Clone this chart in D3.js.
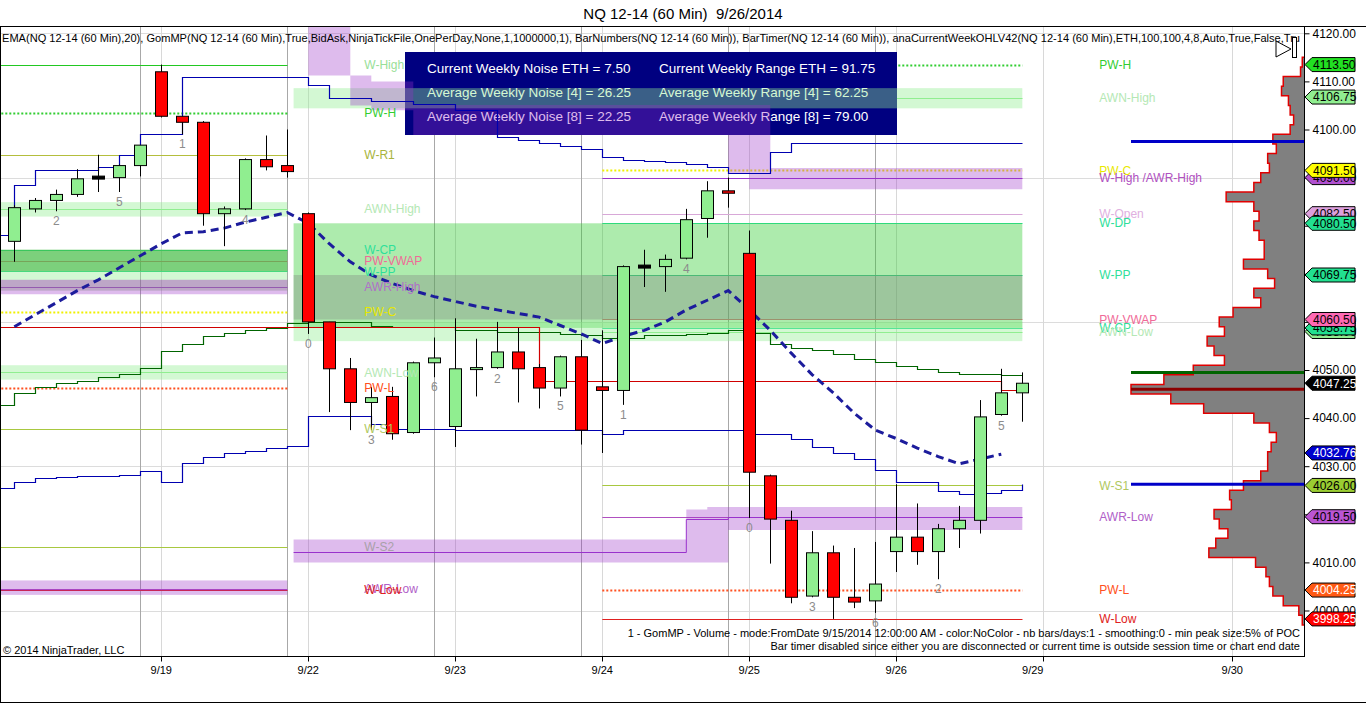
<!DOCTYPE html>
<html>
<head>
<meta charset="utf-8">
<script src="https://cdn.jsdelivr.net/npm/d3@7"></script>
<style>
  body { margin: 0; background: #fff; }
  svg { display: block; font-family: Arial, "Liberation Sans", sans-serif; }
</style>
</head>
<body>
<svg id="chart" width="1366" height="703"></svg>
<script>
// ---- Candles, one per 60 min bar (RTH, 7 bars a day) ----
const opens  = [4076.75,4083.5,4085.25,4086.5,4090,4090,4092.5, 4112,4102.75,4101.5,4082.5,4083.5,4093.75,4092.5,
                4082.5,4060,4050.25,4043.25,4044.5,4037,4051.5, 4038.25,4050.25,4050.5,4053.75,4050.5,4046.25,4052.75,
                4046.5,4045.75,4071.5,4071.5,4073.25,4081.5,4087.25, 4074.25,4028,4018.75,4003,4012,4002.75,4002,
                4012.25,4015.25,4012.25,4017,4018.75,4040.75,4045.25];
const highs  = [4084.25,4085.75,4087.5,4091.75,4094.75,4092.75,4096.75, 4113.5,4102.75,4101.75,4084,4094,4098.75,4100,
                4082.75,4060,4052.5,4046.5,4046.5,4051.75,4056.75, 4060.75,4056.5,4060,4058.75,4051.25,4053,4056.25,
                4058.25,4071.75,4075,4074,4083.5,4089.25,4090, 4079,4028.25,4020.75,4016.5,4013.5,4013,4014.25,
                4026.25,4022.25,4018,4021.75,4043.75,4050.25,4049.5];
const lows   = [4072.5,4082.75,4083,4086,4087,4087,4090.25, 4102.5,4099,4080,4075.75,4083.25,4091.5,4090,
                4057.5,4041.25,4037.5,4037.5,4035.5,4036.75,4048.5, 4034,4044.5,4050.25,4043.25,4042,4044.5,4034.5,
                4032.75,4042.75,4067.25,4066.25,4073,4077.5,4083.75, 4019.25,4009.75,4001.5,4002.75,3998.25,4000.5,3999.5,
                4008,4009.5,4006.5,4013,4016,4040.5,4039.25];
const closes = [4083.75,4085.25,4086.5,4089.75,4090,4092.5,4096.75, 4102.75,4101.5,4082.5,4083.5,4093.75,4092.25,4091.25,
                4060,4050.25,4043.25,4044.25,4036.75,4051.5,4052.5, 4050.25,4050.5,4053.75,4050.25,4046.25,4052.75,4037.5,
                4045.75,4071.5,4071.5,4073,4081.25,4087.25,4086.75, 4028.75,4019,4002.75,4012,4002.75,4001.75,4005.5,
                4015.25,4012.25,4017,4018.75,4040.25,4045.25,4047.25];

// EMA(20), bars 0..47.
const emaValues = [4059,4061.5,4064,4066.5,4068.75,4071.25,4073.75,4076.25,4078.5,4078.75,4079.5,4080.75,4081.75,4082.75,
                   4080.5,4076.25,4072.5,4069.75,4068,4066.5,4065.25,4064.25,4063.25,4062.5,4061.75,4061,4059.25,4057.5,
                   4055.5,4057,4058.25,4060,4062.5,4064.5,4066.5,4062.5,4058.25,4053.5,4049,4045.25,4041,4037.5,
                   4035.75,4033.75,4032,4030.5,4031.5,4032.5];

// GomMP developing lines, bars -1..48 (step after).
const vahSteps  = [4078,4088.5,4091.5,4091.5,4091.5,4092.25,4094.75,4099,4099,4111,4111,4111,4111,4111,4111,
                   4109.25,4106.5,4106.5,4106,4106,4105.25,4105.25,4104,4104,4098.5,4097.75,4097.25,4096.5,4096,
                   4094.25,4093.75,4093.5,4093.25,4092.75,4092.25,4091,4091,4095.25,
                   4097.25,4097.25,4097.25,4097.25,4097.25,4097.25,4097.25,4097.25,4097.25,4097.25,4097.25,4097.25];
const valSteps  = [4025.5,4026.75,4027.5,4027.75,4028,4028,4028.25,4029,4026.75,4030.75,4032,4032.75,4033.25,4033.75,4034.25,
                   4040.5,4040.5,4040.5,4038.75,4037.75,4037.75,4037.75,4037.5,4037.5,4037.5,4037.5,4037.5,4037.5,4037.5,
                   4036.75,4037.5,4037.5,4037.5,4037.5,4037.5,4037.5,4036.75,4036.75,4035.75,4034,4032.75,4031.5,4029.25,
                   4026.75,4026.75,4024.75,4024.25,4024.5,4025,4026.25];
const vwapSteps = [4042.75,4045.25,4046.5,4047.25,4047.75,4048.5,4049.25,4050.5,4054,4055.5,4057,4057.75,4058.25,4058.75,4059.75,
                   4060,4060,4060,4059.25,4059,4059,4059,4058.25,4058.25,4058,4058,4058,4057.5,4057.25,
                   4056.75,4056.75,4057.25,4057.25,4057.5,4057.75,4058.25,4057.75,4055.5,4054.5,4054.25,4053.25,4052.25,4051.75,
                   4050.75,4050.25,4049.5,4049.25,4049.25,4049,4049];
const pocSteps  = [4059,4059,4059,4059,4059,4059,4059,4059,4059,4059,4059,4059,4059,4059,4059,4059,4059,4059,4059,4059,
                   4059,4059,4059,4059,4059,4059,
                   4047.75,4047.75,4047.75,4047.75,4047.75,4047.75,4047.75,4047.75,4047.75,4047.75,4047.75,
                   4047.75,4047.75,4047.75,4047.75,4047.75,4047.75,4047.75,4047.75,4047.75,4047.75,4047.75,
                   4045.75,4045.75];

// Previous week levels (bars up to 13) and current week levels.
const prevNames  = ["W-High","PW-H","W-R1","AWN-High","W-CP","PW-VWAP","W-PP","AWR-High","PW-C","AWN-Low","PW-L","W-S1","W-S2","AWR-Low","W-Low"];
const prevPrices = [4113.5,4103.5,4094.75,4083.5,4075,4072.75,4070.5,4067.25,4062,4049.5,4046.25,4037.75,4013.25,4004.5,4004.25];
const curNames   = ["PW-H","AWN-High","PW-C","W-High /AWR-High","W-Open","W-DP","W-PP","PW-VWAP","W-CP","AWN-Low","W-S1","AWR-Low","PW-L","W-Low"];
const curPrices  = [4113.5,4106.5,4091.5,4090,4082.5,4080.5,4069.75,4060.5,4058.75,4058,4026,4019.5,4004.25,3998.25];

// Shaded price zones [high, low, kind].
const prevZones = [[4084.9,4081.9,"awn"],[4075,4070.5,"range"],[4075,4070.5,"range"],[4075,4070.5,"tint"],
                   [4070.5,4068.75,"awn"],[4068.75,4065.75,"awr"],[4068.75,4066.5,"shade"],
                   [4051,4048,"awn"],[4006.25,4003.25,"awr"]];
const curZones  = [[4108.6,4104.4,"awn"],[4080.5,4058.75,"range"],[4069.75,4060.5,"shade"],[4060,4056,"awn"]];

// Stepped AWR bands for the current week: [bar, high, low].
const awrHighBand = [[14,4121.5,4111.25],[16,4111.25,4105],[17,4110,4104],[19,4105.1,4098.85],
                     [34,4105.1,4090.95],[35,4105.1,4087.6],[36,4092,4087.6],[48,4092,4087.6]];
const awrLowBand  = [[13.3,4014.75,4010],[32,4021,4010],[33,4021.5,4010],[34,4021.5,4016.75],[48,4021.5,4016.75]];
const awrLowLine  = [[13.3,4012.25],[32,4019],[34,4019.5],[48,4019.5]];

// Volume profile (GomMP), 2 point bins.
const profilePrices  = d3.range(3998, 4115, 2);
const profileVolumes = [1,3,12,18,20,22,28,55,51,44,49,52,42,43,35,25,21,21,19,16,20,29,58,77,100,81,64,46,52,56,
                        46,49,41,25,29,17,21,35,23,23,26,29,26,29,45,29,25,20,21,16,18,8,6,8,9,13,12,2,1];
const profileLevels  = [[4097.5,"#0000c8"],[4026.25,"#0000c8"],[4049.5,"#006400"],[4046,"#8b0000"]];

// Price markers on the axis.
const markerPrices = [4113.5,4106.75,4090,4091.5,4082.5,4080.5,4069.75,4058,4058.75,4060.5,4047.25,4032.76,4026,4019.5,4004.25,3998.25];
const markerKeys   = ["PW-H","AWN-High","W-High","PW-C","W-Open","W-DP","W-PP","AWN-Low","W-CP","PW-VWAP","Last","EMA","W-S1","AWR-Low","PW-L","W-Low"];

// Time axis.
const gridBars   = [7,14,21,28,35,42,49,58];
const dateBars   = [7,14,21,28,35,42,48.5,58];
const dateLabels = ["9/19","9/22","9/23","9/24","9/25","9/26","9/29","9/30"];
const breakBars  = [6,13,20,27,34,41];
const gridPrices = [4000,4030,4060,4090,4120];
const barNumberBars = d3.range(2, 48, 3);

// ---- Styles ----
const levelStyle = {
  "W-High":   {stroke: "#22c822", text: "#98e098"},
  "PW-H":     {stroke: "#32cd32", text: "#32cd32", dash: "2,2", width: 2},
  "W-R1":     {stroke: "#b4be3c", text: "#a8b43c"},
  "AWN-High": {stroke: "#90ee90", text: "#b4e8b4"},
  "W-CP":     {stroke: "#2ee09a", text: "#2ee09a"},
  "PW-VWAP":  {stroke: "#f07090", text: "#f06a98"},
  "W-PP":     {stroke: "#2ee09a", text: "#2ee09a"},
  "AWR-High": {stroke: "#a050c8", text: "#b070c8"},
  "PW-C":     {stroke: "#f0f000", text: "#e8e800", dash: "2,2", width: 2},
  "AWN-Low":  {stroke: "#90ee90", text: "#b4e8b4"},
  "PW-L":     {stroke: "#ff5020", text: "#ff5020", dash: "2,2", width: 2},
  "W-S1":     {stroke: "#a8c840", text: "#b0c860"},
  "W-S2":     {stroke: "#a8c840", text: "#a8a0a8"},
  "AWR-Low":  {stroke: "#b050c0", text: "#b060c8"},
  "W-Low":    {stroke: "#e02020", text: "#e02020"},
  "W-High /AWR-High": {stroke: "#9932cc", text: "#b050c0"},
  "W-Open":   {stroke: "#d8a8d8", text: "#e0b0e0"},
  "W-DP":     {stroke: "#2ee09a", text: "#2ee09a"}
};
const zoneStyle = {
  awn:   {fill: "#90ee90", opacity: 0.4},
  range: {fill: "#32cd32", opacity: 0.4},
  shade: {fill: "#808080", opacity: 0.35},
  tint:  {fill: "#808080", opacity: 0.15},
  awr:   {fill: "#9b30c8", opacity: 0.33}
};
const markerStyle = {
  "PW-H": ["#22e022","#000"], "AWN-High": ["#90ee90","#000"], "W-High": ["#b050d0","#000"],
  "PW-C": ["#ffff00","#000"], "W-Open": ["#dda0dd","#000"], "W-DP": ["#22e090","#000"],
  "W-PP": ["#22e090","#000"], "AWN-Low": ["#90ee90","#000"], "W-CP": ["#22e090","#000"],
  "PW-VWAP": ["#ff69b4","#000"], "Last": ["#000000","#fff"], "EMA": ["#0000cd","#fff"],
  "W-S1": ["#9acd32","#000"], "AWR-Low": ["#ba55d3","#000"], "PW-L": ["#ff5a14","#fff"],
  "W-Low": ["#ff0000","#fff"]
};

// ---- Layout ----
const plot = {left: 0, top: 27, right: 1304, bottom: 656};
const x = d3.scaleLinear().domain([0, 48]).range([14.3, 1022.3]);
const y = d3.scaleLinear().domain([4000, 4120]).range([610.5, 33.3]);
const cx = i => Math.round(x(i)) + 0.5;
const cy = p => Math.round(y(p)) + 0.5;

const svg = d3.select("#chart");
svg.append("rect").attr("width", 1366).attr("height", 703).attr("fill", "#fff");

svg.append("defs").append("clipPath").attr("id", "plotClip")
  .append("rect")
  .attr("x", plot.left).attr("y", plot.top)
  .attr("width", plot.right - plot.left).attr("height", plot.bottom - plot.top);

// Title.
svg.append("text")
  .attr("x", 683).attr("y", 19)
  .attr("text-anchor", "middle")
  .attr("font-size", 15)
  .style("white-space", "pre")
  .text("NQ 12-14 (60 Min)  9/26/2014");

const g = svg.append("g").attr("clip-path", "url(#plotClip)");

// Grid.
g.selectAll(".hgrid").data(gridPrices).join("line")
  .attr("x1", plot.left).attr("x2", plot.right)
  .attr("y1", cy).attr("y2", cy)
  .attr("stroke", "#dcdcdc");
g.selectAll(".vgrid").data(gridBars).join("line")
  .attr("x1", cx).attr("x2", cx)
  .attr("y1", plot.top).attr("y2", plot.bottom)
  .attr("stroke", "#d8d8d8");
g.selectAll(".brk").data(breakBars).join("line")
  .attr("x1", cx).attr("x2", cx)
  .attr("y1", plot.top).attr("y2", plot.bottom)
  .attr("stroke", "#a8a8a8");

// Level lines: previous week to bar 13, current week from bar 28.
function drawLevels(names, prices, from, to) {
  g.append("g").selectAll("line").data(names).join("line")
    .attr("x1", x(from)).attr("x2", cx(to))
    .attr("y1", (d, i) => cy(prices[i])).attr("y2", (d, i) => cy(prices[i]))
    .attr("stroke", d => levelStyle[d].stroke)
    .attr("stroke-width", d => levelStyle[d].width || 1)
    .attr("stroke-dasharray", d => levelStyle[d].dash || null);
}
drawLevels(prevNames, prevPrices, -1, 13);
drawLevels(curNames, curPrices, 28, 48);

// Weekly noise / range box.
const box = g.append("g");
box.append("rect").attr("x", 405).attr("y", 52).attr("width", 492).attr("height", 83).attr("fill", "#000080");
const boxRows = [
  ["Current Weekly Noise ETH = 7.50", "Current Weekly Range ETH = 91.75"],
  ["Average Weekly Noise [4] = 26.25", "Average Weekly Range [4] = 62.25"],
  ["Average Weekly Noise [8] = 22.25", "Average Weekly Range [8] = 79.00"]
];
boxRows.forEach((row, r) => {
  row.forEach((t, c) => {
    box.append("text")
      .attr("x", c ? 659 : 427).attr("y", 73 + r * 24)
      .attr("fill", "#fff").attr("font-size", 13.5)
      .text(t);
  });
});

// Shaded zones.
function drawZones(zones, from, to) {
  g.append("g").selectAll("rect").data(zones).join("rect")
    .attr("x", x(from)).attr("width", x(to) - x(from))
    .attr("y", d => y(d[0])).attr("height", d => y(d[1]) - y(d[0]))
    .attr("fill", d => zoneStyle[d[2]].fill)
    .attr("opacity", d => zoneStyle[d[2]].opacity);
}
drawZones(prevZones, -1, 13);
drawZones(curZones, 13.3, 48);

// Stepped AWR bands.
const band = d3.area().curve(d3.curveStepAfter)
  .x(d => x(d[0])).y0(d => y(d[1])).y1(d => y(d[2]));
[awrHighBand, awrLowBand].forEach(b => {
  g.append("path").attr("d", band(b))
    .attr("fill", zoneStyle.awr.fill).attr("opacity", zoneStyle.awr.opacity);
});
g.append("path")
  .attr("d", d3.line().curve(d3.curveStepAfter).x(d => x(d[0])).y(d => cy(d[1]))(awrLowLine))
  .attr("fill", "none").attr("stroke", "#9932cc");

// GomMP developing lines.
const stepLine = d3.line().curve(d3.curveStepAfter)
  .x((d, i) => cx(i - 1)).y(d => cy(d));
[[vahSteps, "#0000b0"], [valSteps, "#0000b0"], [vwapSteps, "#006400"], [pocSteps, "#d00000"]].forEach(([s, c]) => {
  g.append("path").attr("d", stepLine(s))
    .attr("fill", "none").attr("stroke", c).attr("stroke-width", 1.2);
});

// EMA(20).
g.append("path")
  .attr("d", d3.line().x((d, i) => x(i)).y(d => y(d))(emaValues))
  .attr("fill", "none")
  .attr("stroke", "#1c1c9c")
  .attr("stroke-width", 3)
  .attr("stroke-dasharray", "8,5");

// Candles.
const idx = d3.range(opens.length);
g.selectAll(".wick").data(idx).join("line")
  .attr("x1", cx).attr("x2", cx)
  .attr("y1", i => y(highs[i])).attr("y2", i => y(lows[i]))
  .attr("stroke", "#000");
g.selectAll(".body").data(idx).join("rect")
  .attr("x", i => Math.round(x(i)) - 6 + 0.5)
  .attr("width", 12)
  .attr("y", i => opens[i] === closes[i] ? y(closes[i]) - 1.5 : y(Math.max(opens[i], closes[i])))
  .attr("height", i => opens[i] === closes[i] ? 3 : Math.max(2, Math.abs(y(opens[i]) - y(closes[i]))))
  .attr("fill", i => opens[i] === closes[i] ? "#000" : closes[i] > opens[i] ? "#90ee90" : "#ff0000")
  .attr("stroke", "#000");

// Bar numbers.
g.selectAll(".barnum").data(barNumberBars).join("text")
  .attr("x", i => x(i)).attr("y", i => y(lows[i]) + 14)
  .attr("text-anchor", "middle")
  .attr("font-size", 12)
  .attr("fill", "#8c8c8c")
  .text(i => i % 7);

// Level labels, drawn right of each line end.
function drawLabels(names, prices, lastBar) {
  g.append("g").selectAll("text").data(names).join("text")
    .attr("x", x(lastBar) + 77)
    .attr("y", (d, i) => y(prices[i]))
    .attr("dy", "0.35em")
    .attr("font-size", 12)
    .attr("fill", d => levelStyle[d].text)
    .text(d => d);
}
drawLabels(prevNames, prevPrices, 13);
drawLabels(curNames, curPrices, 48);

// Volume profile anchored to the price axis.
const vx = d3.scaleLinear().domain([0, 100]).range([0, 173]);
const half = 1;
const pts = [[plot.right, y(profilePrices[profilePrices.length - 1] + half)]];
for (let k = profilePrices.length - 1; k >= 0; k--) {
  const px = plot.right - vx(profileVolumes[k]);
  pts.push([px, y(profilePrices[k] + half)], [px, y(profilePrices[k] - half)]);
}
pts.push([plot.right, y(profilePrices[0] - half)]);
g.append("path").attr("d", d3.line()(pts) + "Z").attr("fill", "#808080");
g.append("path").attr("d", d3.line()(pts))
  .attr("fill", "none").attr("stroke", "#e00000").attr("stroke-width", 1.5);
g.selectAll(".plevel").data(profileLevels).join("line")
  .attr("x1", plot.right - vx(100)).attr("x2", plot.right)
  .attr("y1", d => y(d[0])).attr("y2", d => y(d[0]))
  .attr("stroke", d => d[1]).attr("stroke-width", 3);

// Frame and axes.
svg.append("line").attr("x1", 0).attr("x2", 1366).attr("y1", 26.5).attr("y2", 26.5).attr("stroke", "#000");
svg.append("line").attr("x1", 0.5).attr("x2", 0.5).attr("y1", 26.5).attr("y2", 703).attr("stroke", "#000");
svg.append("line").attr("x1", 0).attr("x2", 1366).attr("y1", 702.5).attr("y2", 702.5).attr("stroke", "#000");

const yAxis = svg.append("g")
  .attr("transform", `translate(${plot.right + 0.5},0)`)
  .call(d3.axisRight(y).tickValues(d3.range(4000, 4121, 10)).tickSize(5).tickFormat(d3.format(".2f")));
yAxis.select(".domain").attr("d", `M0,${plot.top}V${plot.bottom}`);
yAxis.selectAll("text").attr("font-size", 12).attr("font-family", "Arial, 'Liberation Sans', sans-serif").attr("fill", "#000");

const xAxis = svg.append("g").attr("transform", `translate(0,${plot.bottom + 0.5})`);
xAxis.append("line").attr("x1", 0).attr("x2", plot.right + 1).attr("stroke", "#000");
xAxis.selectAll(".tick").data(gridBars).join("line")
  .attr("x1", cx).attr("x2", cx).attr("y1", 0).attr("y2", 5).attr("stroke", "#000");
xAxis.selectAll(".dlabel").data(dateLabels).join("text")
  .attr("x", (d, i) => x(dateBars[i])).attr("y", 17)
  .attr("text-anchor", "middle").attr("font-size", 11)
  .text(d => d);

// Axis price markers.
const mk = svg.append("g");
markerPrices.forEach((p, i) => {
  const yy = y(p), st = markerStyle[markerKeys[i]];
  mk.append("path")
    .attr("d", `M${plot.right + 1},${yy}L${plot.right + 8},${yy - 7}H1355V${yy + 7}H${plot.right + 8}Z`)
    .attr("fill", st[0]).attr("stroke", "#000");
  mk.append("text")
    .attr("x", 1313).attr("y", yy).attr("dy", "0.36em")
    .attr("font-size", 12).attr("fill", st[1])
    .text(p.toFixed(2));
});

// Header texts.
svg.append("text")
  .attr("x", 2).attr("y", 42)
  .attr("font-size", 11)
  .attr("textLength", 1298).attr("lengthAdjust", "spacingAndGlyphs")
  .text("EMA(NQ 12-14 (60 Min),20), GomMP(NQ 12-14 (60 Min),True,BidAsk,NinjaTickFile,OnePerDay,None,1,1000000,1), BarNumbers(NQ 12-14 (60 Min)), BarTimer(NQ 12-14 (60 Min)), anaCurrentWeekOHLV42(NQ 12-14 (60 Min),ETH,100,100,4,8,Auto,True,False,Tru");
svg.append("path").attr("d", "M1276,41L1291,49L1276,57Z").attr("fill", "#fff").attr("stroke", "#000");
svg.append("rect").attr("x", 1292.5).attr("y", 37.5).attr("width", 4).attr("height", 20).attr("fill", "#fff").attr("stroke", "#000");

// Footer texts.
svg.append("text").attr("x", 3).attr("y", 654).attr("font-size", 11)
  .text("\u00a9 2014 NinjaTrader, LLC");
svg.append("text").attr("x", 1300).attr("y", 637).attr("font-size", 11).attr("text-anchor", "end")
  .text("1 - GomMP - Volume - mode:FromDate 9/15/2014 12:00:00 AM - color:NoColor - nb bars/days:1 - smoothing:0 - min peak size:5% of POC");
svg.append("text").attr("x", 1300).attr("y", 650).attr("font-size", 11).attr("text-anchor", "end")
  .text("Bar timer disabled since either you are disconnected or current time is outside session time or chart end date");
</script>
</body>
</html>
